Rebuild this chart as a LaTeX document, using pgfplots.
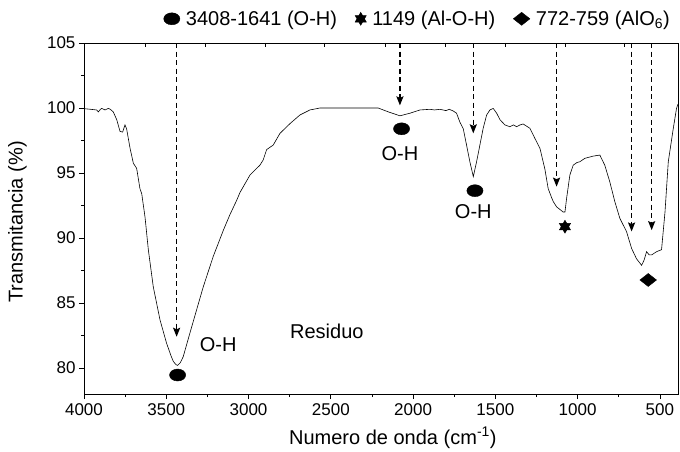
\documentclass[border=0pt]{standalone}
\usepackage{pgfplots}
\pgfplotsset{compat=1.18}
\usepackage{fontspec}
\setmainfont{Liberation Sans}
\usetikzlibrary{arrows.meta}

\pgfdeclareplotmark{hexstar}{%
  \pgfpathmoveto{\pgfqpointpolar{90}{\pgfplotmarksize}}%
  \pgfpathlineto{\pgfqpointpolar{210}{\pgfplotmarksize}}%
  \pgfpathlineto{\pgfqpointpolar{330}{\pgfplotmarksize}}%
  \pgfpathclose
  \pgfpathmoveto{\pgfqpointpolar{270}{\pgfplotmarksize}}%
  \pgfpathlineto{\pgfqpointpolar{30}{\pgfplotmarksize}}%
  \pgfpathlineto{\pgfqpointpolar{150}{\pgfplotmarksize}}%
  \pgfpathclose
  \pgfusepathqfillstroke}

\pgfplotstableread{
x y
4000 99.95
3960 99.9
3923 99.85
3913 99.7
3900 99.9
3892 99.97
3872 99.85
3852 99.97
3840 99.9
3822 99.7
3801 99.1
3781 98.2
3765 98.15
3751 98.7
3741 98.4
3720 96.9
3700 95.75
3680 95.36
3660 93.8
3649 93.4
3629 91.6
3609 89.1
3579 86.25
3538 83.7
3498 81.9
3470 80.9
3457 80.5
3440 80.25
3431 80.2
3415 80.4
3397 80.87
3356 82.7
3315 84.5
3275 86.25
3214 88.6
3153 90.6
3113 91.8
3072 92.9
3052 93.5
2991 94.85
2931 95.6
2911 96.0
2890 96.8
2850 97.15
2809 98.05
2748 98.8
2688 99.46
2627 99.85
2566 100.0
2400 100.0
2212 100.0
2150 99.7
2080 99.4
2019 99.6
1958 99.85
1898 99.9
1870 99.85
1837 99.9
1800 99.8
1780 99.9
1756 99.77
1736 99.6
1715 98.9
1695 98.4
1675 97.15
1655 95.87
1634 94.72
1614 95.87
1594 97.15
1574 98.44
1553 99.46
1533 99.85
1513 99.97
1492 99.6
1472 99.1
1442 98.7
1412 98.56
1390 98.7
1371 98.56
1350 98.7
1331 98.77
1290 98.44
1260 97.67
1229 96.9
1199 95.3
1179 93.8
1158 93.1
1148 92.8
1128 92.4
1108 92.2
1088 92.0
1077 92.0
1067 93.05
1047 94.85
1027 95.6
1005 95.8
986 95.87
956 96.13
905 96.3
865 96.38
835 95.6
804 94.3
774 92.8
743 91.5
703 90.5
672 89.2
642 88.4
611 87.9
596 88.3
581 88.95
565 88.7
550 88.7
520 88.95
490 89.1
469 92.0
449 95.87
419 98.4
399 99.97
390 100.3
}\spectrum

\begin{document}
\begin{tikzpicture}[x=1pt,y=1pt]
\path[use as bounding box] (0,0) rectangle (680,451);
\begin{axis}[
  at={(84pt,57pt)}, anchor=south west,
  scale only axis, width=594pt, height=351pt,
  x dir=reverse, xmin=390, xmax=4000, ymin=78, ymax=105,
  xtick={500,1000,1500,2000,2500,3000,3500,4000},
  ytick={80,85,90,95,100,105},
  minor x tick num=1, minor y tick num=1,
  xtick pos=bottom, ytick pos=left, tick align=outside,
  major tick length=5pt, minor tick length=3pt,
  every tick/.style={black, line width=0.8pt},
  axis line style={line width=0.8pt},
  tick label style={font=\fontsize{17}{19}\selectfont},
  xticklabel style={yshift=-1pt},
  /pgf/number format/assume math mode=true,
  /pgf/number format/set thousands separator={},
  xlabel={Numero de onda (cm\textsuperscript{-1})},
  ylabel={Transmitancia (\%)},
  every axis x label/.style={at={(axis description cs:0.52,-0.125)}, anchor=center, font=\fontsize{20}{22}\selectfont},
  every axis y label/.style={at={(axis description cs:-0.112,0.49)}, anchor=center, rotate=90, font=\fontsize{20}{22}\selectfont},
  legend columns=3,
  legend style={at={(0.995,1)}, anchor=south east, yshift=12pt, draw=none, fill=none,
    font=\fontsize{20}{22}\selectfont,
    /tikz/every odd column/.append style={column sep=4pt},
    /tikz/every even column/.append style={column sep=16pt}},
]
\addplot[black, line width=0.6pt, forget plot] table[x=x,y=y] {\spectrum};
\addplot[black, line width=1.6pt, dash pattern=on 5pt off 3.5pt, -{Stealth[length=9pt,width=7pt,inset=1.5pt]}, forget plot] coordinates {(3437,105) (3437,82.4)};
\addplot[black, line width=1.6pt, dash pattern=on 5pt off 3.5pt, -{Stealth[length=9pt,width=7pt,inset=1.5pt]}, forget plot] coordinates {(2080,105) (2080,100.2)};
\addplot[black, line width=1.6pt, dash pattern=on 5pt off 3.5pt, -{Stealth[length=9pt,width=7pt,inset=1.5pt]}, forget plot] coordinates {(1634,105) (1634,98.05)};
\addplot[black, line width=1.6pt, dash pattern=on 5pt off 3.5pt, -{Stealth[length=9pt,width=7pt,inset=1.5pt]}, forget plot] coordinates {(1128,105) (1128,93.95)};
\addplot[black, line width=1.6pt, dash pattern=on 5pt off 3.5pt, -{Stealth[length=9pt,width=7pt,inset=1.5pt]}, forget plot] coordinates {(672,105) (672,90.5)};
\addplot[black, line width=1.6pt, dash pattern=on 5pt off 3.5pt, -{Stealth[length=9pt,width=7pt,inset=1.5pt]}, forget plot] coordinates {(550,105) (550,90.6)};
\addplot[only marks, mark=*, mark size=6pt, mark options={black, fill=black, xscale=1.35}] coordinates {(3431,79.46) (2070,98.4) (1624,93.64)};
\addlegendentry{3408-1641 (O-H)}
\addplot[only marks, mark=hexstar, mark size=6.5pt, mark options={black, fill=black}] coordinates {(1077,90.87)};
\addlegendentry{1149 (Al-O-H)}
\addplot[only marks, mark=diamond*, mark size=6.5pt, mark options={black, fill=black, xscale=1.7}] coordinates {(571,86.77)};
\addlegendentry{772-759 (AlO\textsubscript{6})}
\node[font=\fontsize{20}{22}\selectfont] at (axis cs:3184,81.8) {O-H};
\node[font=\fontsize{20}{22}\selectfont] at (axis cs:2080,96.5) {O-H};
\node[font=\fontsize{20}{22}\selectfont] at (axis cs:1634,92.0) {O-H};
\node[font=\fontsize{20}{22}\selectfont] at (axis cs:2524,82.85) {Residuo};
\end{axis}
\begin{axis}[
  at={(84pt,57pt)}, anchor=south west,
  scale only axis, width=594pt, height=351pt,
  x dir=reverse, xmin=390, xmax=4000, ymin=78, ymax=105,
  axis x line*=top, hide y axis,
  xtick={3629,3265,2900,2536,2171,1806,1442,1077,713},
  xticklabels={}, tick align=inside, major tick length=4pt,
  every tick/.style={black, line width=0.8pt},
  axis line style={line width=0.8pt},
]
\end{axis}
\end{tikzpicture}
\end{document}
